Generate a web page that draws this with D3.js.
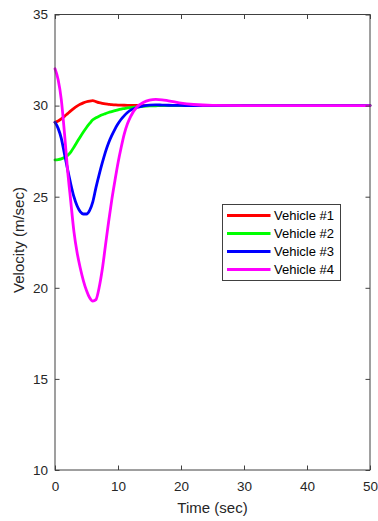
<!DOCTYPE html>
<html>
<head>
<meta charset="utf-8">
<script src="https://cdn.jsdelivr.net/npm/d3@7"></script>
<style>
  html, body { margin: 0; padding: 0; background: #fff; }
  svg { display: block; font-family: "Liberation Sans", Arial, Helvetica, sans-serif; }
</style>
</head>
<body>
<svg id="chart" width="378" height="521"></svg>
<script>
// Simulation time stamps (seconds)
const time = [0, 0.5, 1, 1.5, 2, 2.5, 3, 3.5, 4, 4.5, 5, 5.5, 6, 6.5, 7, 7.5, 8, 8.5, 9, 9.5,
              10, 10.5, 11, 11.5, 12, 13, 14, 15, 16, 17, 18, 19, 20, 22, 25, 30, 40, 50];

// Velocity of each vehicle (m/sec) at the time stamps above
const vehicle1 = [29.08, 29.15, 29.27, 29.41, 29.56, 29.71, 29.85, 29.97, 30.07, 30.15,
                  30.21, 30.25, 30.27, 30.22, 30.16, 30.12, 30.09, 30.07, 30.05, 30.04,
                  30.03, 30.025, 30.02, 30.015, 30.01, 30.005, 30, 30, 30, 30, 30, 30, 30, 30, 30, 30, 30, 30];
const vehicle2 = [27.02, 27.04, 27.08, 27.15, 27.27, 27.45, 27.72, 28.0, 28.28, 28.55,
                  28.8, 29.02, 29.22, 29.33, 29.42, 29.5, 29.56, 29.62, 29.67, 29.72,
                  29.77, 29.81, 29.84, 29.87, 29.89, 29.93, 29.96, 29.98, 29.99, 30, 30, 30, 30, 30, 30, 30, 30, 30];
const vehicle3 = [29.08, 28.75, 28.2, 27.35, 26.5, 25.7, 25.0, 24.5, 24.18, 24.05,
                  24.05, 24.25, 24.72, 25.5, 26.2, 26.85, 27.45, 27.95, 28.35, 28.7,
                  29.0, 29.25, 29.45, 29.62, 29.75, 29.9, 29.98, 30.03, 30.04, 30.03, 30.02, 30.015, 30.01, 30, 30, 30, 30, 30];
const vehicle4 = [32.02, 31.42, 30.33, 28.5, 26.45, 24.75, 23.1, 21.95, 21.1, 20.4,
                  19.85, 19.45, 19.27, 19.35, 20.0, 21.0, 22.3, 23.6, 24.8, 25.85,
                  26.85, 27.7, 28.45, 29.0, 29.4, 29.92, 30.17, 30.3, 30.34, 30.32, 30.26, 30.2, 30.14, 30.06, 30.01, 30, 30, 30];

const seriesNames = ["Vehicle #1", "Vehicle #2", "Vehicle #3", "Vehicle #4"];
const seriesColors = ["#ff0000", "#00ff00", "#0000ff", "#ff00ff"];
const seriesValues = [vehicle1, vehicle2, vehicle3, vehicle4];

const xTicks = [0, 10, 20, 30, 40, 50];
const yTicks = [10, 15, 20, 25, 30, 35];
const xLabel = "Time (sec)";
const yLabel = "Velocity (m/sec)";

// Plot geometry
const plotLeft = 55, plotRight = 370, plotTop = 14.5, plotBottom = 470;
const axisColor = "#404040", textColor = "#262626";

const svg = d3.select("#chart");

const x = d3.scaleLinear().domain([0, 50]).range([plotLeft, plotRight]);
const y = d3.scaleLinear().domain([10, 35]).range([plotBottom, plotTop]);

// Curves
const line = d3.line()
  .x(d => x(d[0]))
  .y(d => y(d[1]))
  .curve(d3.curveMonotoneX);

const plot = svg.append("g");
seriesValues.forEach((vals, i) => {
  plot.append("path")
    .datum(time.map((t, j) => [t, vals[j]]))
    .attr("fill", "none")
    .attr("stroke", seriesColors[i])
    .attr("stroke-width", 2.8)
    .attr("stroke-linejoin", "round")
    .attr("stroke-linecap", "round")
    .attr("d", line);
});

// Axes box with inward ticks on all four sides
function styleAxis(g) {
  g.select(".domain").remove();
  g.selectAll(".tick line").attr("stroke", axisColor).attr("stroke-width", 1);
  g.selectAll(".tick text")
    .attr("fill", textColor)
    .style("font-size", "13.5px")
    .style("font-family", "'Liberation Sans', Arial, Helvetica, sans-serif");
}

svg.append("g")
  .attr("transform", `translate(0,${plotBottom})`)
  .call(d3.axisBottom(x).tickValues(xTicks).tickSize(-4.5).tickSizeOuter(0).tickPadding(11.5).tickFormat(d3.format("d")))
  .call(styleAxis);

svg.append("g")
  .attr("transform", `translate(0,${plotTop})`)
  .call(d3.axisTop(x).tickValues(xTicks).tickSize(-4.5).tickSizeOuter(0).tickFormat(""))
  .call(styleAxis);

svg.append("g")
  .attr("transform", `translate(${plotLeft},0)`)
  .call(d3.axisLeft(y).tickValues(yTicks).tickSize(-4.5).tickSizeOuter(0).tickPadding(7).tickFormat(d3.format("d")))
  .call(styleAxis);

svg.append("g")
  .attr("transform", `translate(${plotRight},0)`)
  .call(d3.axisRight(y).tickValues(yTicks).tickSize(-4.5).tickSizeOuter(0).tickFormat(""))
  .call(styleAxis);

svg.append("rect")
  .attr("x", plotLeft)
  .attr("y", plotTop)
  .attr("width", plotRight - plotLeft)
  .attr("height", plotBottom - plotTop)
  .attr("fill", "none")
  .attr("stroke", axisColor)
  .attr("stroke-width", 1);

// Axis titles
svg.append("text")
  .attr("x", (plotLeft + plotRight) / 2)
  .attr("y", 513)
  .attr("text-anchor", "middle")
  .attr("fill", textColor)
  .style("font-size", "15px")
  .text(xLabel);

svg.append("text")
  .attr("transform", "translate(24,240) rotate(-90)")
  .attr("text-anchor", "middle")
  .attr("fill", textColor)
  .style("font-size", "15px")
  .text(yLabel);

// Legend
const legend = svg.append("g").attr("transform", "translate(222.5,204.5)");
legend.append("rect")
  .attr("width", 118)
  .attr("height", 76)
  .attr("fill", "#fff")
  .attr("stroke", axisColor)
  .attr("stroke-width", 1);

seriesNames.forEach((name, i) => {
  const cy = 11 + i * 18;
  legend.append("line")
    .attr("x1", 4.5).attr("x2", 48)
    .attr("y1", cy).attr("y2", cy)
    .attr("stroke", seriesColors[i])
    .attr("stroke-width", 2.8);
  legend.append("text")
    .attr("x", 51.5)
    .attr("y", cy)
    .attr("dy", "0.36em")
    .attr("fill", "#000")
    .style("font-size", "13px")
    .text(name);
});
</script>
</body>
</html>
